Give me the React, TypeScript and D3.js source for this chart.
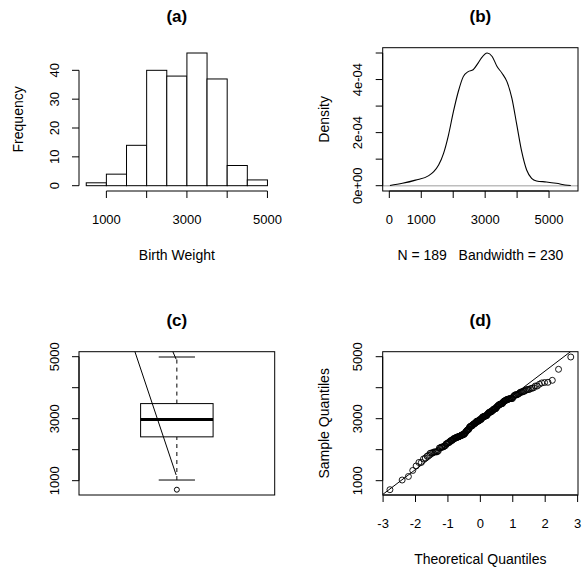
import * as d3 from 'd3'

// histogram (a)
const histBreaks = [500, 1000, 1500, 2000, 2500, 3000, 3500, 4000, 4500, 5000]
const histCounts = [1, 4, 14, 40, 38, 46, 37, 7, 2]
const histXTicks = [1000, 2000, 3000, 4000, 5000]
const histXLabels = ['1000', '', '3000', '', '5000']
const histYTicks = [0, 10, 20, 30, 40]

// density (b)
const densityX = [19, 410, 820, 1235, 1390, 1543, 1698, 1852, 2006, 2160, 2315, 2469, 2623, 2778, 2880, 3065, 3219, 3373, 3528, 3682, 3836, 3991, 4145, 4299, 4454, 4608, 4917, 5225, 5586, 5680]
const densityY = [0.000001, 0.000009, 0.000021, 0.000038, 0.000053, 0.000078, 0.000122, 0.000191, 0.000279, 0.000355, 0.000411, 0.00043, 0.000437, 0.000462, 0.000481, 0.0005, 0.000487, 0.000449, 0.000424, 0.000392, 0.00033, 0.000229, 0.000128, 0.000059, 0.000028, 0.000018, 0.000014, 0.000009, 0.0000015, 0.0000005]
const densXTicks = [0, 1000, 2000, 3000, 4000, 5000]
const densXLabels = ['0', '1000', '', '3000', '', '5000']
const densYTicks = [0, 0.0001, 0.0002, 0.0003, 0.0004, 0.0005]
const densYLabels = ['0e+00', '', '2e-04', '', '4e-04', '']

// boxplot (c)
const boxStats = [1021, 2414, 2977, 3487, 4990]
const boxOutliers = [709]
const boxExtraLines = [
  [[0.764, 5243], [0.996, 1185]],
  [[0.972, 5243], [0.996, 4919]],
]
const bwTicks = [1000, 2000, 3000, 4000, 5000]
const bwLabels = ['1000', '', '3000', '', '5000']

// normal Q-Q (d), sorted birth weights
const bwt = [
  709, 1021, 1135, 1330, 1474, 1588, 1588, 1701, 1729, 1790, 1818, 1885, 1893, 1899, 1928, 1928, 1928, 1936, 1970,
  2055, 2055, 2082, 2084, 2084, 2100, 2125, 2126, 2187, 2187, 2211, 2225, 2240, 2240, 2282, 2296, 2296, 2301, 2325,
  2353, 2353, 2367, 2381, 2381, 2381, 2410, 2410, 2410, 2414, 2424, 2438, 2442, 2450, 2466, 2466, 2466, 2495, 2495,
  2495, 2495,
  2523, 2551, 2557, 2594, 2600, 2622, 2637, 2637, 2663, 2665, 2722, 2733, 2750, 2751, 2769, 2769, 2778, 2782, 2807,
  2821, 2835, 2835, 2836, 2863, 2877, 2877, 2906, 2920, 2920, 2920, 2920, 2922, 2948, 2948, 2977, 2977, 2977, 2977,
  3005, 3033, 3042, 3062, 3062, 3062, 3062, 3080, 3090, 3090, 3090, 3100, 3104, 3132, 3147, 3175, 3175, 3203, 3203,
  3203, 3225, 3225, 3232, 3234, 3260, 3274, 3274, 3303, 3317, 3317, 3317, 3321, 3331, 3374, 3374, 3402, 3416, 3430,
  3444, 3459, 3460, 3473, 3475, 3487, 3487, 3495,
  3544, 3544, 3572, 3572, 3586, 3600, 3614, 3614, 3629, 3629, 3637, 3643, 3651, 3651, 3651, 3651, 3699, 3728, 3756,
  3770, 3770, 3770, 3790, 3799, 3827, 3856, 3860, 3860, 3884, 3884, 3912, 3940, 3941, 3941, 3969, 3983, 3997,
  4054, 4054, 4111, 4153, 4167, 4174, 4238, 4593, 4990,
]
const qqXTicks = [-3, -2, -1, 0, 1, 2, 3]

const W = 584
const H = 571
const font = '"Liberation Sans", Arial, Helvetica, sans-serif'
const tickFs = 13
const labFs = 14
const titleFs = 17
const tickLen = 7

// plot regions
const colL = [79, 274.7]
const colR = [382.7, 578]
const rowT = [47.7, 191]
const rowB = [351.7, 495]

// R-style 4% padding
const pad = (lo: number, hi: number) => [lo - 0.04 * (hi - lo), hi + 0.04 * (hi - lo)]

// inverse normal cdf (Acklam)
function qnorm(p: number) {
  const a = [-39.69683028665376, 220.9460984245205, -275.9285104469687, 138.357751867269, -30.66479806614716, 2.506628277459239]
  const b = [-54.47609879822406, 161.5858368580409, -155.6989798598866, 66.80131188771972, -13.28068155288572]
  const c = [-0.007784894002430293, -0.3223964580411365, -2.400758277161838, -2.549732539343734, 4.374664141464968, 2.938163982698783]
  const d = [0.007784695709041462, 0.3224671290700398, 2.445134137142996, 3.754408661907416]
  const pl = 0.02425
  if (p < pl || p > 1 - pl) {
    const q = Math.sqrt(-2 * Math.log(p < pl ? p : 1 - p))
    const v = (((((c[0] * q + c[1]) * q + c[2]) * q + c[3]) * q + c[4]) * q + c[5]) / ((((d[0] * q + d[1]) * q + d[2]) * q + d[3]) * q + 1)
    return p < pl ? v : -v
  }
  const q = p - 0.5
  const r = q * q
  return ((((((a[0] * r + a[1]) * r + a[2]) * r + a[3]) * r + a[4]) * r + a[5]) * q) / (((((b[0] * r + b[1]) * r + b[2]) * r + b[3]) * r + b[4]) * r + 1)
}

type Scale = d3.ScaleLinear<number, number>

const BottomAxis = ({ x, y, ticks, labels }: { x: Scale; y: number; ticks: number[]; labels: string[] }) => (
  <g>
    <line x1={x(ticks[0])} x2={x(ticks[ticks.length - 1])} y1={y} y2={y} stroke="#000" />
    {ticks.map((t, i) => (
      <g key={i}>
        <line x1={x(t)} x2={x(t)} y1={y} y2={y + tickLen} stroke="#000" />
        {labels[i] && (
          <text x={x(t)} y={y + 28} textAnchor="middle" dominantBaseline="central" fontSize={tickFs}>
            {labels[i]}
          </text>
        )}
      </g>
    ))}
  </g>
)

const LeftAxis = ({ y, x, ticks, labels }: { y: Scale; x: number; ticks: number[]; labels: string[] }) => (
  <g>
    <line x1={x} x2={x} y1={y(ticks[0])} y2={y(ticks[ticks.length - 1])} stroke="#000" />
    {ticks.map((t, i) => (
      <g key={i}>
        <line x1={x} x2={x - tickLen} y1={y(t)} y2={y(t)} stroke="#000" />
        {labels[i] && (
          <text
            transform={`translate(${x - 25},${y(t)}) rotate(-90)`}
            textAnchor="middle"
            dominantBaseline="central"
            fontSize={tickFs}
          >
            {labels[i]}
          </text>
        )}
      </g>
    ))}
  </g>
)

const Title = ({ cx, y, text }: { cx: number; y: number; text: string }) => (
  <text x={cx} y={y - 31} textAnchor="middle" dominantBaseline="central" fontSize={titleFs} fontWeight="bold">
    {text}
  </text>
)

const App = () => {
  // (a)
  const hx = d3.scaleLinear().domain(pad(histBreaks[0], histBreaks[histBreaks.length - 1])).range(colL)
  const hy = d3.scaleLinear().domain(pad(0, d3.max(histCounts)!)).range([rowT[1], rowT[0]])

  // (b)
  const dx = d3.scaleLinear().domain(pad(densityX[0], densityX[densityX.length - 1])).range(colR)
  const dy = d3.scaleLinear().domain(pad(0, d3.max(densityY)!)).range([rowT[1], rowT[0]])
  const densLine = d3
    .line<number>()
    .x((_, i) => dx(densityX[i]))
    .y((v) => dy(v))
    .curve(d3.curveMonotoneX)

  // (c)
  const allBw = [...boxStats, ...boxOutliers]
  const bx = d3.scaleLinear().domain(pad(0.5, 1.5)).range(colL)
  const by = d3.scaleLinear().domain(pad(d3.min(allBw)!, d3.max(allBw)!)).range([rowB[1], rowB[0]])

  // (d)
  const n = bwt.length
  const theo = bwt.map((_, i) => qnorm((i + 1 - 0.5) / n))
  const qx = d3.scaleLinear().domain(pad(theo[0], theo[n - 1])).range(colR)
  const qy = d3.scaleLinear().domain(pad(bwt[0], bwt[n - 1])).range([rowB[1], rowB[0]])
  const q1 = d3.quantileSorted(bwt, 0.25)!
  const q3 = d3.quantileSorted(bwt, 0.75)!
  const slope = (q3 - q1) / (qnorm(0.75) - qnorm(0.25))
  const icpt = q1 - slope * qnorm(0.25)
  const [lx0, lx1] = qx.domain()

  return (
    <svg width={W} height={H} style={{ position: 'absolute', left: 0, top: 0, background: '#fff' }} fontFamily={font} fill="#000">
      <defs>
        <clipPath id="clipC">
          <rect x={colL[0]} y={rowB[0]} width={colL[1] - colL[0]} height={rowB[1] - rowB[0]} />
        </clipPath>
        <clipPath id="clipD">
          <rect x={colR[0]} y={rowB[0]} width={colR[1] - colR[0]} height={rowB[1] - rowB[0]} />
        </clipPath>
      </defs>

      {/* (a) histogram */}
      <Title cx={(colL[0] + colL[1]) / 2} y={rowT[0]} text="(a)" />
      {histCounts.map((c, i) => (
        <rect
          key={i}
          x={hx(histBreaks[i])}
          y={hy(c)}
          width={hx(histBreaks[i + 1]) - hx(histBreaks[i])}
          height={hy(0) - hy(c)}
          fill="#fff"
          stroke="#000"
        />
      ))}
      <BottomAxis x={hx} y={rowT[1]} ticks={histXTicks} labels={histXLabels} />
      <LeftAxis y={hy} x={colL[0]} ticks={histYTicks} labels={histYTicks.map(String)} />
      <text x={(colL[0] + colL[1]) / 2} y={rowT[1] + 64} textAnchor="middle" dominantBaseline="central" fontSize={labFs}>
        Birth Weight
      </text>
      <text
        transform={`translate(${colL[0] - 61},${(rowT[0] + rowT[1]) / 2}) rotate(-90)`}
        textAnchor="middle"
        dominantBaseline="central"
        fontSize={labFs}
      >
        Frequency
      </text>

      {/* (b) density */}
      <Title cx={(colR[0] + colR[1]) / 2} y={rowT[0]} text="(b)" />
      <line x1={colR[0]} x2={colR[1]} y1={dy(0)} y2={dy(0)} stroke="#bebebe" strokeWidth={1.5} />
      <path d={densLine(densityY) ?? ''} fill="none" stroke="#000" strokeWidth={1.1} />
      <rect x={colR[0]} y={rowT[0]} width={colR[1] - colR[0]} height={rowT[1] - rowT[0]} fill="none" stroke="#000" />
      <BottomAxis x={dx} y={rowT[1]} ticks={densXTicks} labels={densXLabels} />
      <LeftAxis y={dy} x={colR[0]} ticks={densYTicks} labels={densYLabels} />
      <text x={(colR[0] + colR[1]) / 2} y={rowT[1] + 64} textAnchor="middle" dominantBaseline="central" fontSize={labFs}>
        N = 189{'\u00a0\u00a0\u00a0'}Bandwidth = 230
      </text>
      <text
        transform={`translate(${colR[0] - 59},${(rowT[0] + rowT[1]) / 2}) rotate(-90)`}
        textAnchor="middle"
        dominantBaseline="central"
        fontSize={labFs}
      >
        Density
      </text>

      {/* (c) boxplot */}
      <Title cx={(colL[0] + colL[1]) / 2} y={rowB[0]} text="(c)" />
      <g stroke="#000" fill="none">
        <line x1={bx(1)} x2={bx(1)} y1={by(boxStats[0])} y2={by(boxStats[1])} strokeDasharray="4 4" />
        <line x1={bx(1)} x2={bx(1)} y1={by(boxStats[3])} y2={by(boxStats[4])} strokeDasharray="4 4" />
        <line x1={bx(0.9)} x2={bx(1.1)} y1={by(boxStats[0])} y2={by(boxStats[0])} />
        <line x1={bx(0.9)} x2={bx(1.1)} y1={by(boxStats[4])} y2={by(boxStats[4])} />
        <rect x={bx(0.8)} y={by(boxStats[3])} width={bx(1.2) - bx(0.8)} height={by(boxStats[1]) - by(boxStats[3])} fill="#fff" />
        <line x1={bx(0.8)} x2={bx(1.2)} y1={by(boxStats[2])} y2={by(boxStats[2])} strokeWidth={3} />
        {boxOutliers.map((o, i) => (
          <circle key={i} cx={bx(1)} cy={by(o)} r={2.5} />
        ))}
        <g clipPath="url(#clipC)">
          {boxExtraLines.map((seg, i) => (
            <line key={i} x1={bx(seg[0][0])} y1={by(seg[0][1])} x2={bx(seg[1][0])} y2={by(seg[1][1])} />
          ))}
        </g>
        <rect x={colL[0]} y={rowB[0]} width={colL[1] - colL[0]} height={rowB[1] - rowB[0]} />
      </g>
      <LeftAxis y={by} x={colL[0]} ticks={bwTicks} labels={bwLabels} />

      {/* (d) normal Q-Q */}
      <Title cx={(colR[0] + colR[1]) / 2} y={rowB[0]} text="(d)" />
      <g fill="none" stroke="#000">
        {bwt.map((v, i) => (
          <circle key={i} cx={qx(theo[i])} cy={qy(v)} r={3} strokeWidth={0.9} />
        ))}
        <g clipPath="url(#clipD)">
          <line x1={qx(lx0)} y1={qy(icpt + slope * lx0)} x2={qx(lx1)} y2={qy(icpt + slope * lx1)} />
        </g>
        <rect x={colR[0]} y={rowB[0]} width={colR[1] - colR[0]} height={rowB[1] - rowB[0]} />
      </g>
      <BottomAxis x={qx} y={rowB[1]} ticks={qqXTicks} labels={qqXTicks.map(String)} />
      <LeftAxis y={qy} x={colR[0]} ticks={bwTicks} labels={bwLabels} />
      <text x={(colR[0] + colR[1]) / 2} y={rowB[1] + 64} textAnchor="middle" dominantBaseline="central" fontSize={labFs}>
        Theoretical Quantiles
      </text>
      <text
        transform={`translate(${colR[0] - 59},${(rowB[0] + rowB[1]) / 2}) rotate(-90)`}
        textAnchor="middle"
        dominantBaseline="central"
        fontSize={labFs}
      >
        Sample Quantiles
      </text>
    </svg>
  )
}

export default App
